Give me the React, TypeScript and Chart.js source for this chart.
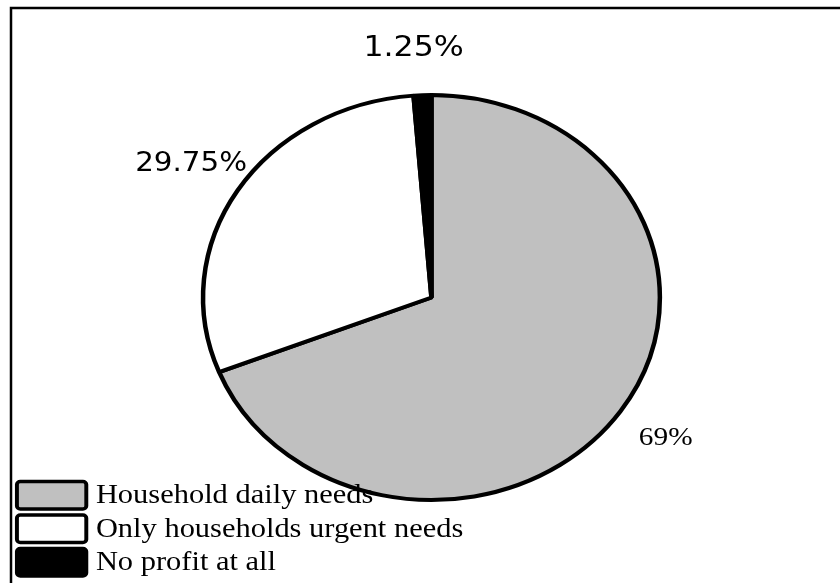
import React, { useEffect, useRef } from "react";
import { Chart, registerables } from "chart.js";

Chart.register(...registerables);

const categories = ["Household daily needs", "Only households urgent needs", "No profit at all"];
const shares = [69, 29.75, 1.25];
const sliceLabels = ["69%", "29.75%", "1.25%"];
const sliceColors = ["#c0c0c0", "#ffffff", "#000000"];
const labelFonts = ["26px 'Liberation Serif'", "26px 'DejaVu Sans'", "28px 'DejaVu Sans'"];

// the original picture is stretched horizontally
const SX = 1.128;
const W = 840;
const H = 583;

const overlay = {
  id: "overlay",
  beforeDraw(chart: any) {
    const ctx = chart.ctx as CanvasRenderingContext2D;
    ctx.save();
    ctx.fillStyle = "#fff";
    ctx.fillRect(0, 0, chart.width, chart.height);
    ctx.restore();
  },
  beforeDatasetsDraw(chart: any) {
    chart.ctx.save();
    chart.ctx.scale(SX, 1);
  },
  afterDatasetsDraw(chart: any) {
    chart.ctx.restore();
  },
  afterDraw(chart: any) {
    const ctx = chart.ctx as CanvasRenderingContext2D;
    const meta = chart.getDatasetMeta(0);
    ctx.save();
    // frame (left and top edges only)
    ctx.strokeStyle = "#000";
    ctx.lineWidth = 2.5;
    ctx.beginPath();
    ctx.moveTo(11, H);
    ctx.lineTo(11, 8);
    ctx.lineTo(W, 8);
    ctx.stroke();

    ctx.scale(SX, 1);
    // slice labels
    meta.data.forEach((arc: any, i: number) => {
      const p = arc.getProps(["x", "y", "startAngle", "endAngle", "outerRadius"], true);
      const mid = (p.startAngle + p.endAngle) / 2;
      const r = p.outerRadius * 1.24;
      ctx.font = labelFonts[i];
      ctx.textAlign = "center";
      ctx.textBaseline = "middle";
      ctx.fillStyle = "#000";
      ctx.fillText(sliceLabels[i], p.x + r * Math.cos(mid) - (i === 2 ? 6 : 0), p.y + r * Math.sin(mid) + (i === 2 ? 2 : 0));
    });

    // legend
    categories.forEach((name, i) => {
      const top = 480 + i * 33.5;
      ctx.beginPath();
      (ctx as any).roundRect(15, top + 1.5, 61.5, 27.5, 3);
      ctx.fillStyle = sliceColors[i];
      ctx.fill();
      ctx.lineWidth = 3.5;
      ctx.strokeStyle = "#000";
      ctx.stroke();
      ctx.font = "27px 'Liberation Serif'";
      ctx.textAlign = "left";
      ctx.textBaseline = "alphabetic";
      ctx.fillStyle = "#000";
      ctx.fillText(name, 85, top + 23);
    });
    ctx.restore();
  },
};

export default function App() {
  const ref = useRef<HTMLCanvasElement | null>(null);
  useEffect(() => {
    if (!ref.current) return;
    const chart = new Chart(ref.current, {
      type: "pie",
      data: {
        labels: categories,
        datasets: [
          {
            data: shares,
            backgroundColor: sliceColors,
            borderColor: "#000",
            borderWidth: 4,
            clip: false,
          } as any,
        ],
      },
      options: {
        animation: false,
        responsive: true,
        maintainAspectRatio: false,
        layout: {
          padding: { left: 178, right: 253, top: 93, bottom: 81 },
        },
        plugins: {
          legend: { display: false },
          tooltip: { enabled: false },
          title: { display: false },
        },
      },
      plugins: [overlay],
    });
    return () => chart.destroy();
  }, []);

  return (
    <div
      style={{
        position: "fixed",
        left: 0,
        top: 0,
        width: W + "px",
        height: H + "px",
        background: "#fff",
      }}
    >
      <canvas ref={ref} />
    </div>
  );
}
